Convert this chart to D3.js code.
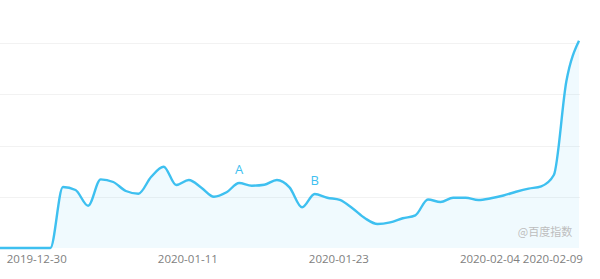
<!DOCTYPE html>
<html>
<head>
<meta charset="utf-8">
<script src="https://cdn.jsdelivr.net/npm/d3@7"></script>
<style>
  html, body { margin: 0; padding: 0; background: #fff; }
  svg { display: block; font-family: "Open Sans", "Noto Sans", sans-serif; }
</style>
</head>
<body>
<svg id="chart"></svg>
<script>
// dias, de 2019-12-27 até 2020-02-11
const startDate = "2019-12-27";
const valores = [
  0, 0, 0, 0, 0, 1190, 1132, 825, 1340, 1288,
  1112, 1060, 1385, 1586, 1229, 1327, 1177, 1001, 1087, 1268,
  1216, 1235, 1327, 1184, 794, 1054, 981, 937, 775, 580,
  468, 501, 580, 638, 946, 898, 981, 981, 937, 970,
  1024, 1097, 1159, 1204, 1424, 3259, 4045
];
const tickDatas = ["2019-12-30", "2020-01-11", "2020-01-23", "2020-02-04", "2020-02-09"];
const gridValores = [1000, 2000, 3000, 4000];
const marcadores = [
  { data: "2020-01-15", rotulo: "A" },
  { data: "2020-01-21", rotulo: "B" }
];

const width = 600, height = 279;
const cor = "#3ec0f0";

const parse = d3.timeParse("%Y-%m-%d");
const t0 = parse(startDate);
const dados = valores.map((v, i) => ({ data: d3.timeDay.offset(t0, i), valor: v }));

const svg = d3.select("#chart")
  .attr("width", width)
  .attr("height", height)
  .attr("viewBox", `0 0 ${width} ${height}`);

const x = d3.scaleTime()
  .domain(d3.extent(dados, d => d.data))
  .range([0, 579]);
const y = d3.scaleLinear().domain([0, 4000]).range([248, 43]);

// linhas de grade
svg.append("g")
  .selectAll("line")
  .data(gridValores)
  .enter()
  .append("line")
  .attr("x1", 0)
  .attr("x2", 580)
  .attr("y1", d => Math.round(y(d)) + 0.5)
  .attr("y2", d => Math.round(y(d)) + 0.5)
  .attr("stroke", "#f2f2f2")
  .attr("stroke-width", 1);

const area = d3.area()
  .x(d => x(d.data))
  .y0(y(0))
  .y1(d => y(d.valor))
  .curve(d3.curveMonotoneX);

const linha = d3.line()
  .x(d => x(d.data))
  .y(d => y(d.valor))
  .curve(d3.curveMonotoneX);

svg.append("path")
  .datum(dados)
  .attr("d", area)
  .attr("fill", cor)
  .attr("fill-opacity", 0.08);

svg.append("path")
  .datum(dados)
  .attr("d", linha)
  .attr("fill", "none")
  .attr("stroke", cor)
  .attr("stroke-width", 2.4)
  .attr("stroke-linejoin", "round");

// marcadores A / B
svg.append("g")
  .selectAll("text")
  .data(marcadores)
  .enter()
  .append("text")
  .attr("x", d => x(parse(d.data)))
  .attr("y", d => y(valores[d3.timeDay.count(t0, parse(d.data))]) - 9)
  .attr("text-anchor", "middle")
  .attr("fill", cor)
  .attr("font-size", 13)
  .text(d => d.rotulo);

// eixo X
const xAxis = d3.axisBottom(x)
  .tickValues(tickDatas.map(parse))
  .tickFormat(d3.timeFormat("%Y-%m-%d"))
  .tickSize(0)
  .tickPadding(0);

const xAxisGroup = svg.append("g")
  .attr("transform", "translate(-1.5,254.5)")
  .call(xAxis);

xAxisGroup.select(".domain").remove();
xAxisGroup.selectAll(".tick text")
  .attr("fill", "#808080")
  .attr("font-size", 11.5)
  .attr("font-family", "\"Open Sans\", \"Noto Sans\", sans-serif");

// marca d'água
svg.append("text")
  .attr("x", 545)
  .attr("y", 236)
  .attr("text-anchor", "middle")
  .attr("fill", "#bdbdbd")
  .attr("font-size", 11)
  .attr("font-family", "\"Noto Sans CJK SC\", sans-serif")
  .text("@百度指数");
</script>
</body>
</html>
